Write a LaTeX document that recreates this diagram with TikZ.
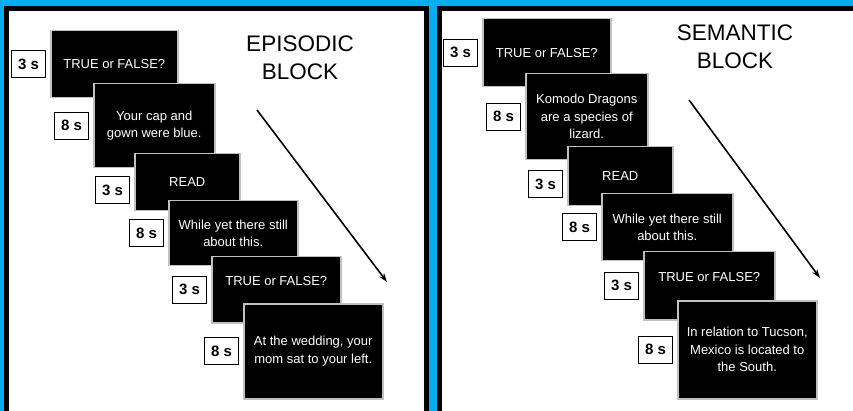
\documentclass[tikz,border=0pt]{standalone}
\usepackage{fontspec}
\setmainfont{Liberation Sans}
\usetikzlibrary{positioning}
\usetikzlibrary{arrows.meta}
\definecolor{mblue}{RGB}{0,174,239}
\definecolor{mgray}{RGB}{192,192,192}
\tikzset{
    slide/.style={fill=black, draw=mgray, line width=1.5pt, text=white, align=center,
        inner sep=0pt, anchor=north west, font=\fontsize{13}{17.5}\selectfont},
    timer/.style={fill=white, draw=black, line width=0.8pt, minimum width=34pt,
        minimum height=27pt, inner sep=0pt, font=\fontsize{15}{15}\selectfont\bfseries},
    heading/.style={align=center, font=\fontsize{22.5}{28}\selectfont},
}

\begin{document}
\begin{tikzpicture}[x=1pt, y=-1pt]
    \useasboundingbox (0,0) rectangle (853,411);
    \clip (0,0) rectangle (853,411);
    \fill[mblue] (0,0) rectangle (853,411);
    \fill (4,6) rectangle (429,420);
    \fill[white] (9,11) rectangle (424,420);
    \fill (437,6) rectangle (860,420);
    \fill[white] (442,11) rectangle (860,420);

    \node[heading] (eptitle) at (300,58) {EPISODIC\\BLOCK};
    \node[slide, minimum width=127pt, minimum height=67pt] (ep1) at (50,30) {TRUE or FALSE?};
    \node[timer, left=4pt of ep1] (ept1) {3 s};
    \node[slide, minimum width=121pt, minimum height=84pt] (ep2) at (93,83) {Your cap and\\gown were blue.};
    \node[timer, left=4pt of ep2] (ept2) {8 s};
    \node[slide, minimum width=105pt, minimum height=57pt] (ep3) at (134,153) {READ};
    \node[timer, left=4pt of ep3, yshift=-8pt] (ept3) {3 s};
    \node[slide, minimum width=129pt, minimum height=65pt] (ep4) at (168,200) {While yet there still\\about this.};
    \node[timer, left=4pt of ep4] (ept4) {8 s};
    \node[slide, minimum width=129pt, minimum height=66pt,
        label={[text=white, font=\fontsize{13}{17.5}\selectfont, yshift=9pt]center:TRUE or FALSE?}] (ep5) at (211,256) {};
    \node[timer, left=4pt of ep5] (ept5) {3 s};
    \node[slide, minimum width=139pt, minimum height=95pt] (ep6) at (243,303) {At the wedding, your\\mom sat to your left.};
    \node[timer, left=4pt of ep6] (ept6) {8 s};
    \coordinate (epa) at (257,110);
    \coordinate (epb) at (387,282);
    \draw[line width=1.6pt, -{Stealth[length=9pt, width=6pt]}] (epa) -- (epb);

    \node[heading] (smtitle) at (735,47) {SEMANTIC\\BLOCK};
    \node[slide, minimum width=128pt, minimum height=68pt] (sm1) at (482,18) {TRUE or FALSE?};
    \node[timer, left=4pt of sm1] (smt1) {3 s};
    \node[slide, minimum width=122pt, minimum height=86pt] (sm2) at (525,73) {Komodo Dragons\\are a species of\\lizard.};
    \node[timer, left=4pt of sm2] (smt2) {8 s};
    \node[slide, minimum width=105pt, minimum height=59pt] (sm3) at (567,146) {READ};
    \node[timer, left=4pt of sm3, yshift=-8pt] (smt3) {3 s};
    \node[slide, minimum width=131pt, minimum height=67pt] (sm4) at (601,193) {While yet there still\\about this.};
    \node[timer, left=4pt of sm4] (smt4) {8 s};
    \node[slide, minimum width=131pt, minimum height=68pt,
        label={[text=white, font=\fontsize{13}{17.5}\selectfont, yshift=9pt]center:TRUE or FALSE?}] (sm5) at (643,251) {};
    \node[timer, left=4pt of sm5] (smt5) {3 s};
    \node[slide, minimum width=139pt, minimum height=98pt] (sm6) at (677,300) {In relation to Tucson,\\Mexico is located to\\the South.};
    \node[timer, left=4pt of sm6] (smt6) {8 s};
    \coordinate (sma) at (689,100);
    \coordinate (smb) at (820,278);
    \draw[line width=1.6pt, -{Stealth[length=9pt, width=6pt]}] (sma) -- (smb);
\end{tikzpicture}
\end{document}
